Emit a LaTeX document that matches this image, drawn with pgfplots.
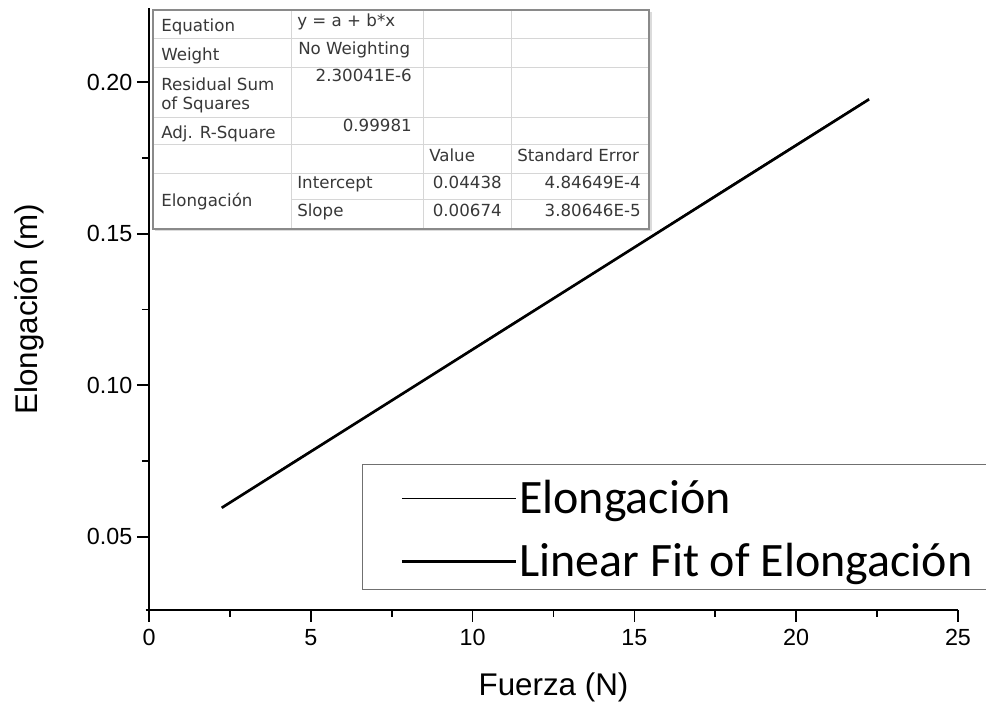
\documentclass[border=0pt]{standalone}
\usepackage{fontspec}
\setmainfont{Liberation Sans}
\newfontfamily\legfont{Carlito}
\newfontfamily\tabfont{DejaVu Sans}
\usepackage{pgfplots}
\pgfplotsset{compat=1.18}
\definecolor{tabtext}{HTML}{383838}
\definecolor{tabgrid}{HTML}{D6D6D6}
\definecolor{tabborder}{HTML}{8A8A8A}
\definecolor{legborder}{HTML}{707070}

\begin{document}
\begin{tikzpicture}
\begin{axis}[
  at={(0,0)}, anchor=south west,
  scale only axis, width=606.75pt, height=451.5pt,
  xmin=0, xmax=25, ymin=0.0258, ymax=0.2245,
  axis x line*=bottom, axis y line*=left,
  axis line style={line width=1.5pt, shorten <=-2.5pt},
  xtick={0,5,10,15,20,25}, ytick={0.05,0.10,0.15,0.20},
  minor x tick num=1, minor y tick num=1,
  tick align=outside,
  major tick length=9pt, minor tick length=5.25pt,
  major tick style={black, line width=1.3pt},
  minor tick style={black, line width=1.3pt},
  y tick label style={/pgf/number format/fixed, /pgf/number format/fixed zerofill, /pgf/number format/precision=2},
  tick label style={font=\fontsize{17.5}{21}\selectfont},
  x tick label style={yshift=-2pt},
  /pgf/number format/assume math mode=true,
  xlabel={Fuerza (N)}, ylabel={Elongación (m)},
  label style={font=\fontsize{23.5}{28}\selectfont},
  xlabel style={at={(axis description cs:0.5,-0.1412)}, anchor=base},
  ylabel style={at={(axis description cs:-0.1384,0.5)}, anchor=base},
  legend style={at={(0.2633,0.0332)}, anchor=south west, draw=legborder, line width=0.75pt,
    inner xsep=28.5pt, inner ysep=2pt,
    font=\legfont\fontsize{36}{43}\selectfont,
    nodes={inner sep=0pt, text height=35.1pt, text depth=7.4pt},
    cells={anchor=base west}, row sep=4.75pt, column sep=1.5pt},
  legend image code/.code={\draw[#1] (0pt,11.6pt) -- (85.5pt,11.6pt);},
]
\addplot[black, line width=1pt] coordinates {
 (2.25,0.0595) (4.45,0.0746) (6.70,0.0895) (8.90,0.1044) (11.10,0.1194)
 (13.35,0.1343) (15.55,0.1493) (17.80,0.1646) (20.00,0.1794) (22.25,0.1945)
};
\addlegendentry{Elongación}
\addplot[black, line width=2pt] coordinates {
 (2.25,0.05955) (22.25,0.19435)
};
\addlegendentry{Linear Fit of Elongación}
\end{axis}
\begin{scope}[x=0.75pt,y=-0.75pt,shift={(-111.75pt,457.5pt)}, font=\tabfont\fontsize{12.5}{15}\selectfont, text=tabtext, every node/.style={inner sep=0pt}]
\fill[black!14] (155.5,12.5) rectangle (651.5,231.5);
\fill[white] (153,10) rectangle (649,229);
\draw[tabgrid, line width=0.75pt]
  (153,39) -- (649,39) (153,68) -- (649,68) (153,118) -- (649,118)
  (153,145) -- (649,145) (153,174) -- (649,174) (291,200) -- (649,200)
  (291,10) -- (291,229) (423,10) -- (423,229) (511,10) -- (511,229);
\draw[tabborder, line width=0.9pt] (153,10) rectangle (649,229);
\node[anchor=base west] at (161,32) {Equation};
\node[anchor=base west] at (161,61) {Weight};
\node[anchor=base west] at (161,91) {Residual Sum};
\node[anchor=base west] at (161,110) {of Squares};
\node[anchor=base west] at (161,139) {Adj. R-Square};
\node[anchor=base west] at (161,207) {Elongación};
\node[anchor=base west] at (297,27) {y = a + b*x};
\node[anchor=base west] at (298,55) {No Weighting};
\node[anchor=base east] at (412,82) {2.30041E-6};
\node[anchor=base east] at (412,132) {0.99981};
\node[anchor=base west] at (297,189) {Intercept};
\node[anchor=base west] at (297,217) {Slope};
\node[anchor=base west] at (429,162) {Value};
\node[anchor=base east] at (502,189) {0.04438};
\node[anchor=base east] at (502,217) {0.00674};
\node[anchor=base west] at (517,162) {Standard Error};
\node[anchor=base east] at (641,189) {4.84649E-4};
\node[anchor=base east] at (641,217) {3.80646E-5};
\end{scope}
\pgfresetboundingbox
\begin{scope}[x=0.75pt,y=-0.75pt,shift={(-111.75pt,457.5pt)}]
\path[use as bounding box] (0,0) rectangle (986,702);
\end{scope}
\end{tikzpicture}
\end{document}
